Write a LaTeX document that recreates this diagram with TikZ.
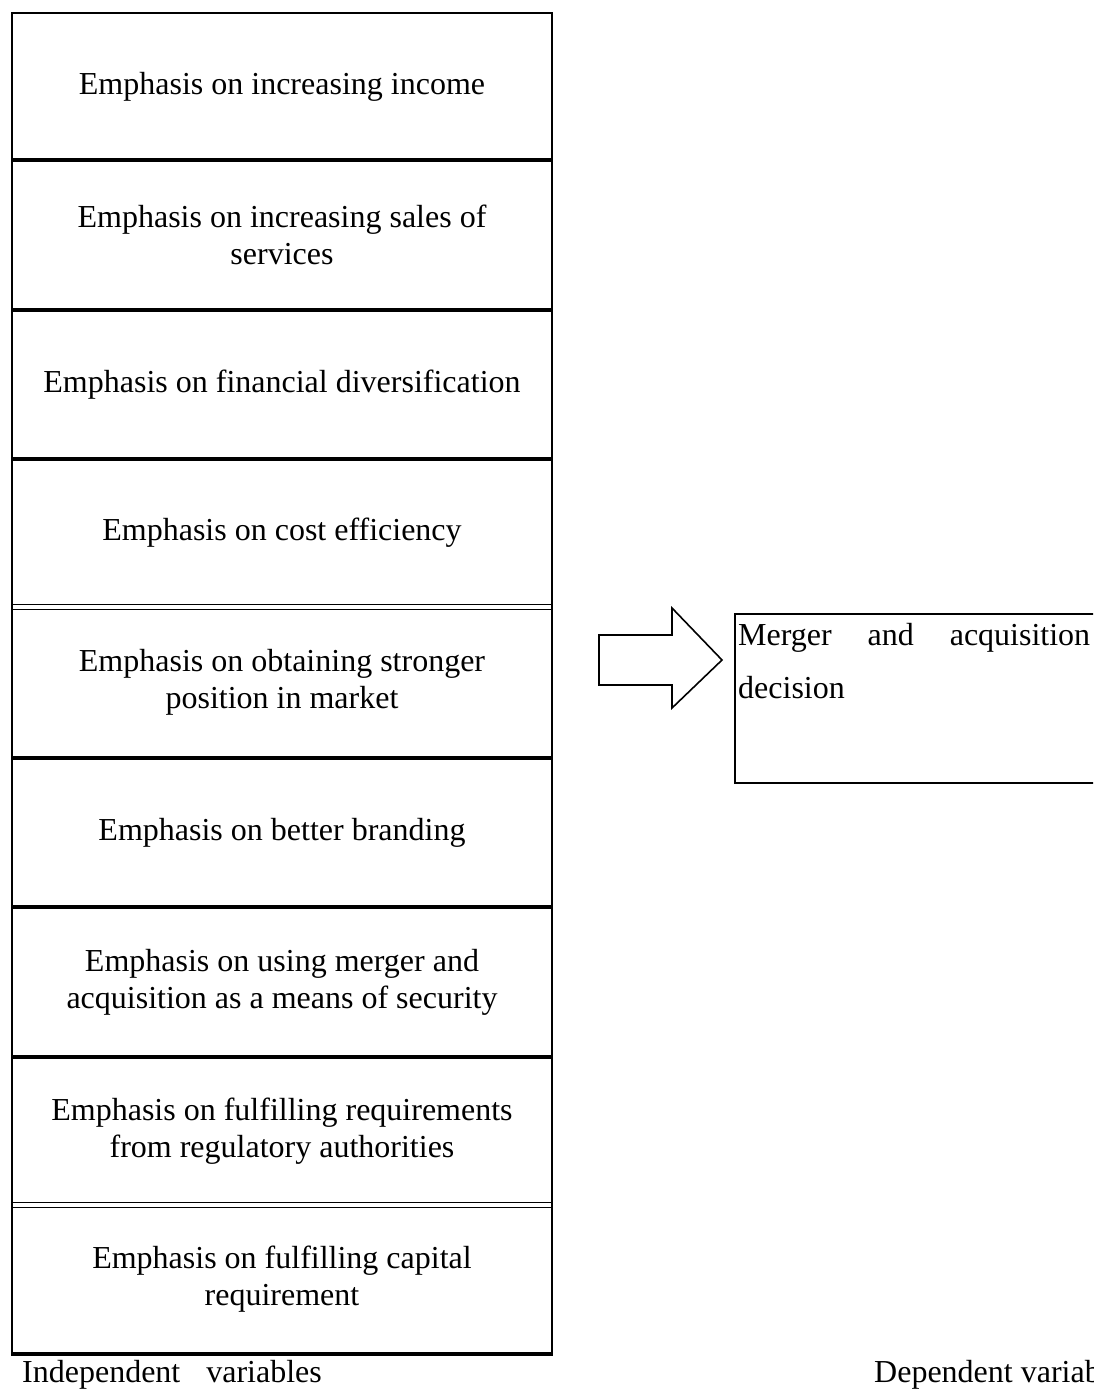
\documentclass[tikz,border=0pt]{standalone}
\usepackage{fontspec}
\setmainfont{Liberation Serif}
\usepackage{tikz}
\usetikzlibrary{positioning}
\usetikzlibrary{calc}
\tikzset{>=latex}
\tikzstyle{factor}=[black,shape=rectangle,inner sep=0pt,align=center,font=\fontsize{32}{36.8}\selectfont]
\tikzstyle{colbox}=[black,draw=black,line width=2pt,shape=rectangle,inner sep=0pt,minimum width=540pt,minimum height=1340pt]
\tikzstyle{sepline}=[line width=4pt,color=black]
\tikzstyle{dblline}=[line width=1.3pt,color=black]
\tikzstyle{blockarrow}=[line width=1.6pt,color=black,line join=miter]
\tikzstyle{varlabel}=[black,anchor=base west,inner sep=0pt,font=\fontsize{32}{36.8}\selectfont]

\begin{document}
\begin{tikzpicture}[x=1pt,y=-1pt]

	\useasboundingbox (0,0) rectangle (1093,1392);
	\clip (0,0) rectangle (1093,1392);

	% Independent variables
	\begin{scope}
	\node[colbox] (indep) at (282, 683) {};
	\draw[line width=3pt] (indep.south west) -- (indep.south east);
	\foreach \y in {160, 310, 459, 758, 907, 1057}
		\draw[sepline] (12, \y) -- (552, \y);
	\foreach \y in {607, 1205} {
		\draw[dblline] (12, \y-2.2) -- (552, \y-2.2);
		\draw[dblline] (12, \y+2.2) -- (552, \y+2.2);
	}
	\node[factor] (income) at (282, 86.5) {Emphasis on increasing income};
	\node[factor] (sales) at (282, 235) {Emphasis on increasing sales of\\services};
	\node[factor] (divers) at (282, 384.5) {Emphasis on financial diversification};
	\node[factor] (cost) at (282, 533) {Emphasis on cost efficiency};
	\node[factor] (market) at (282, 682.5) {Emphasis on obtaining stronger\\position in market};
	\node[factor] (brand) at (282, 832.5) {Emphasis on better branding};
	\node[factor] (secur) at (282, 982) {Emphasis on using merger and\\acquisition as a means of security};
	\node[factor] (regul) at (282, 1131) {Emphasis on fulfilling requirements\\from regulatory authorities};
	\node[factor] (capital) at (282, 1279.5) {Emphasis on fulfilling capital\\requirement};
	\node[varlabel] (indlabel) at (22, 1382) {Independent\hspace{26pt}variables};
	\end{scope}

	% Dependent variable
	\begin{scope}
	\node[draw=black, line width=2pt, shape=rectangle, inner sep=0pt, minimum width=400pt, minimum height=169pt, anchor=north west] (decision) at (734, 613) {};
	\node[anchor=north west, inner sep=0pt, text width=352pt, align=left, font=\fontsize{32}{53}\selectfont] (dectext) at ($(decision.north west) + (4, 10)$) {Merger\hfill and\hfill acquisition\\decision};
	\node[varlabel] (deplabel) at (874, 1382) {Dependent variables};
	\end{scope}

	% Arrow
	\coordinate (atail) at (599, 660);
	\coordinate (abase) at (672, 660);
	\coordinate (atip) at (722, 660);
	\draw[blockarrow] ($(atail) + (0, -25)$) -- ($(abase) + (0, -25)$) -- ($(abase) + (0, -52)$) -- (atip) -- ($(abase) + (0, 48)$) -- ($(abase) + (0, 25)$) -- ($(atail) + (0, 25)$) -- cycle;

\end{tikzpicture}
\end{document}
